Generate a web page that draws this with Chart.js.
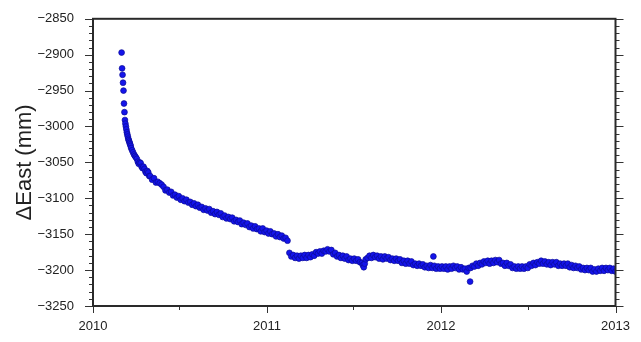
<!DOCTYPE html>
<html>
<head>
<meta charset="utf-8">
<script src="https://cdn.jsdelivr.net/npm/chart.js@4/dist/chart.umd.min.js"></script>
<style>
  html, body { margin: 0; padding: 0; background: #fff; }
  #wrap { width: 641px; height: 342px; }
</style>
</head>
<body>
<div id="wrap"><canvas id="eastplot"></canvas></div>
<script>
// days counted from 2010-01-01, east offset in mm
const daysA = [60,61,62,63,64,65,66,67,68,69,70,71,72,73,74,75,76,77,78,79,80,82,84,86,88,90,
  92,94,96,98,100,102,104,106,108,110,112,114,116,118,120,124,128,132,136,140,144,148,152,156,160,164,168,172,176,180,184,
  188,192,196,200,204,208,212,216,220,224,228,232,236,240,244,248,252,256,260,264,268,272,276,280,
  284,288,292,296,300,304,308,312,316,320,324,328,332,336,340,344,348,352,356,360,364,368,372,376,
  380,384,388,392,396,400,404,408];
const eastA = [-2897,-2919,-2928,-2939,-2950,-2968,-2980,-2991,-2996,-3000,-3004,-3008,-3011,-3014,-3017,-3019,-3021,-3023,-3025,-3027,-3030,-3033,-3036,-3039,-3041,-3043,
  -3045,-3049,-3052,-3050,-3051,-3056,-3058,-3056,-3059,-3063,-3065,-3062,-3064,-3069,-3069,-3074,-3072,-3078,-3077,-3079,-3081,-3084,-3089,-3088,-3092,-3091,-3096,-3095,-3099,-3097,-3102,
  -3100,-3104,-3102,-3106,-3105,-3109,-3107,-3111,-3109,-3113,-3112,-3116,-3114,-3117,-3115,-3120,-3118,-3122,-3119,-3123,-3121,-3126,-3124,-3128,
  -3126,-3129,-3127,-3132,-3130,-3133,-3131,-3136,-3134,-3137,-3135,-3140,-3138,-3142,-3139,-3143,-3142,-3146,-3142,-3147,-3145,-3149,-3146,-3150,
  -3149,-3153,-3150,-3154,-3152,-3156,-3155,-3159];

const daysB = [412,416,420,424,428,432,436,440,444,448,452,456,460,464,468,472,476,480,484,488,492,496,500,504,508,512,516,520,524,528,
  532,536,540,544,548,552,556,560,564,566,568,570,572,576,580,584,588,592,596,600,604,608,612,616,620,624,628,632,636,640,644,648,
  652,656,660,664,668,672,676,680,684,688,692,696,700,704,708,712,714,716,720,724,728,732];
const eastB = [-3176,-3181,-3179,-3183,-3180,-3184,-3180,-3183,-3179,-3183,-3179,-3182,-3178,-3180,-3175,-3177,-3174,-3177,-3173,-3174,-3171,-3174,-3172,-3178,-3176,-3181,-3179,-3183,-3180,-3184,
  -3181,-3186,-3184,-3187,-3184,-3187,-3185,-3189,-3190,-3193,-3196,-3191,-3185,-3183,-3180,-3183,-3179,-3182,-3180,-3184,-3181,-3185,-3181,-3184,-3182,-3186,-3184,-3187,-3184,-3187,-3185,-3190,
  -3187,-3191,-3187,-3191,-3188,-3193,-3191,-3194,-3191,-3194,-3192,-3196,-3194,-3197,-3193,-3197,-3181,-3194,-3198,-3195,-3198,-3195];

const daysC = [736,740,744,748,752,756,760,764,768,772,776,780,784,788,791,792,796,800,804,808,812,816,820,824,828,832,836,840,844,848,
  852,856,860,864,868,872,876,880,884,888,892,896,900,904,908,912,916,920,924,928,932,936,940,944,948,952,956,960,964,968,
  972,976,980,984,988,992,996,1000,1004,1008,1012,1016,1020,1024,1028,1032,1036,1040,1044,1048,1052,1056,1060,1064,1068,1072,1076,1080,1084,1088,1092,1096];
const eastC = [-3198,-3195,-3199,-3195,-3198,-3194,-3197,-3195,-3199,-3196,-3199,-3198,-3202,-3197,-3216,-3197,-3194,-3195,-3191,-3194,-3190,-3192,-3188,-3190,-3187,-3191,-3187,-3190,-3186,-3189,
  -3186,-3191,-3190,-3194,-3190,-3194,-3192,-3197,-3195,-3198,-3195,-3198,-3195,-3198,-3195,-3197,-3192,-3194,-3190,-3193,-3189,-3191,-3187,-3191,-3188,-3192,-3189,-3193,-3189,-3192,
  -3189,-3194,-3191,-3194,-3191,-3194,-3191,-3196,-3193,-3197,-3194,-3197,-3195,-3199,-3197,-3200,-3197,-3200,-3197,-3202,-3199,-3202,-3198,-3201,-3197,-3201,-3197,-3200,-3197,-3201,-3198,-3202];

const yearDays = [0, 365, 730, 1096];
const yearLabels = ['2010', '2011', '2012', '2013'];
const halfYearDays = [181, 546, 912];
const yMin = -3250, yMax = -2850;

const allDays = daysA.concat(daysB, daysC);
const allEast = eastA.concat(eastB, eastC);
const points = allDays.map((d, i) => ({ x: d, y: allEast[i] }));

const frameTicks = {
    id: 'frameTicks',
    afterDraw(chart) {
        const { ctx, chartArea: a, scales: { x, y } } = chart;
        ctx.save();
        ctx.strokeStyle = '#333';
        ctx.lineWidth = 1;
        ctx.beginPath();
        for (let v = yMin; v <= yMax; v += 10) {
            const py = Math.round(y.getPixelForValue(v)) + 0.5;
            const len = (v % 50 === 0) ? 8 : 4;
            ctx.moveTo(a.left - len, py); ctx.lineTo(a.left, py);
            ctx.moveTo(a.right, py); ctx.lineTo(a.right + len, py);
        }
        yearDays.forEach(d => {
            const px = Math.round(x.getPixelForValue(d)) + 0.5;
            ctx.moveTo(px, a.bottom); ctx.lineTo(px, a.bottom + 7);
        });
        halfYearDays.forEach(d => {
            const px = Math.round(x.getPixelForValue(d)) + 0.5;
            ctx.moveTo(px, a.bottom); ctx.lineTo(px, a.bottom + 4);
        });
        ctx.stroke();
        ctx.lineWidth = 2;
        ctx.strokeStyle = '#2a2a2a';
        ctx.strokeRect(a.left, a.top, a.right - a.left, a.bottom - a.top);
        ctx.restore();
    }
};

const ctx = document.getElementById('eastplot').getContext('2d');
new Chart(ctx, {
    type: 'scatter',
    data: {
        datasets: [{
            label: 'East',
            data: points,
            backgroundColor: '#1414ea',
            borderColor: '#0a0a96',
            borderWidth: 0.7,
            pointRadius: 2.9
        }]
    },
    options: {
        responsive: true,
        maintainAspectRatio: false,
        animation: false,
        layout: { padding: { top: 14, right: 25.5, left: 0, bottom: 0 } },
        plugins: { legend: { display: false }, tooltip: { enabled: false } },
        scales: {
            x: {
                type: 'linear',
                min: 0,
                max: 1096,
                afterBuildTicks: s => { s.ticks = yearDays.map(v => ({ value: v })); },
                afterFit: s => { s.height = 36; },
                grid: { display: false },
                border: { display: false },
                ticks: {
                    padding: 5,
                    autoSkip: false,
                    maxRotation: 0,
                    color: '#222',
                    font: { family: 'Liberation Sans', size: 13 },
                    callback: (v) => yearLabels[yearDays.indexOf(v)]
                }
            },
            y: {
                min: yMin,
                max: yMax,
                afterFit: s => { s.width = 93; },
                grid: { display: false },
                border: { display: false },
                ticks: {
                    stepSize: 50,
                    padding: 11,
                    color: '#222',
                    font: { family: 'Liberation Sans', size: 13 },
                    callback: v => String(v).replace('-', '\u2212')
                },
                title: {
                    display: true,
                    text: '\u0394East (mm)',
                    color: '#222',
                    padding: { top: 12, bottom: 0 },
                    font: { family: 'Liberation Sans', size: 22 }
                }
            }
        }
    },
    plugins: [frameTicks]
});
</script>
</body>
</html>
